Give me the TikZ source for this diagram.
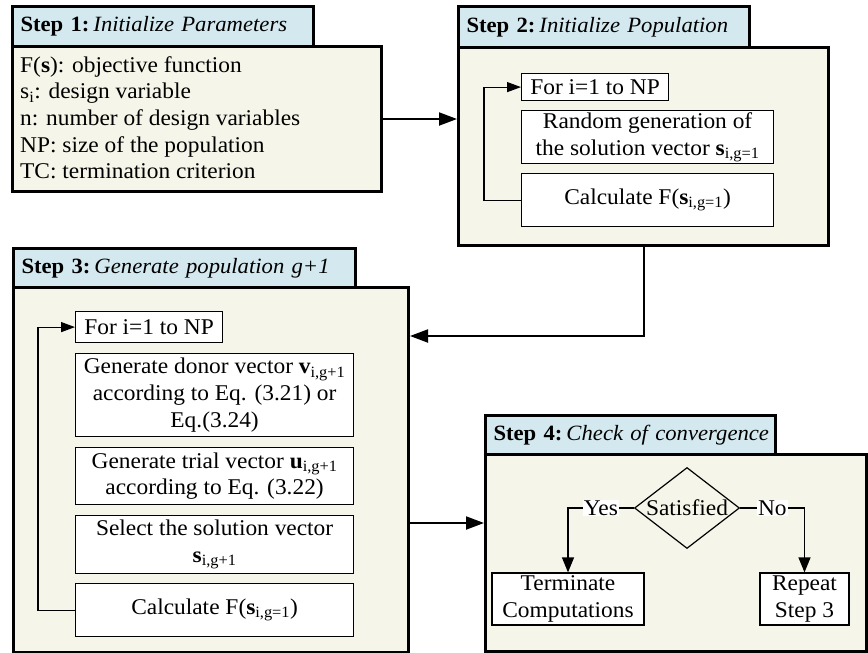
\documentclass[tikz,border=0pt]{standalone}
\usepackage{fontspec}
\setmainfont{Liberation Serif}[FakeStretch=1.04]
\usetikzlibrary{arrows.meta,shapes.geometric}
\definecolor{hdrblue}{HTML}{D3E9EF}
\definecolor{panelcream}{HTML}{F5F5E9}
\newcommand\lowsub[1]{\textsubscript{#1}}
\newcommand\vecb[1]{\textbf{#1}}
\newcommand\steptitle[2]{\mbox{\textbf{Step #1:}\hspace{4pt}\textit{#2}}}
\begin{document}
\begin{tikzpicture}[x=1pt,y=-1pt,
  font=\fontsize{22.5}{26.7}\selectfont,
  panel/.style={draw, line width=3pt, fill=panelcream, anchor=north west, inner sep=0pt},
  header/.style={draw, line width=3pt, fill=hdrblue, anchor=north west, inner xsep=8pt, inner ysep=0pt,
    align=left, font=\fontsize{21.8}{26}\selectfont},
  item/.style={draw, line width=1.2pt, fill=white, anchor=north west, align=center, inner sep=1pt},
  flow/.style={line width=2pt, -{Triangle[length=18pt,width=13pt]}},
  loopback/.style={line width=1.2pt, -{Triangle[length=14pt,width=10pt]}},
  branch/.style={line width=1.2pt, -{Triangle[length=15pt,width=12pt]}},
  tag/.style={fill=white, inner sep=1pt},
]
\useasboundingbox (0,0) rectangle (868,653);

% Step 1: parameters
\node[panel, minimum width=369, minimum height=145] (s1b) at (11,45) {};
\node[header, minimum width=301, minimum height=40, text width=285] (s1h) at (11,5)
  {\steptitle{1}{Initialize Parameters}};
\node[anchor=north west, inner sep=0pt, align=left] (s1txt) at (20,56)
  {F(\textbf{s}): objective function\\
   s\lowsub{i}: design variable\\
   n: number of design variables\\
   NP: size of the population\\
   TC: termination criterion};

% Step 2: initial population
\node[panel, minimum width=370, minimum height=198] (s2b) at (457,46) {};
\node[header, minimum width=291, minimum height=41, text width=275] (s2h) at (457,5)
  {\steptitle{2}{Initialize Population}};
\node[item, minimum width=147, minimum height=27] (s2for) at (521,73) {For i=1 to NP};
\node[item, minimum width=252, minimum height=53] (s2gen) at (521,110)
  {Random generation of\\the solution vector \vecb{s}\lowsub{i,g=1}};
\node[item, minimum width=252, minimum height=53] (s2calc) at (521,173)
  {Calculate F(\vecb{s}\lowsub{i,g=1})};
\draw[loopback] (s2calc.west) -- ++(-37,0) |- (s2for.west);

% Step 3: next generation
\node[panel, minimum width=395, minimum height=365] (s3b) at (12,286) {};
\node[header, minimum width=342, minimum height=39, text width=326] (s3h) at (12,247)
  {\steptitle{3}{Generate population g+1}};
\node[item, minimum width=147, minimum height=31] (s3for) at (75,311) {For i=1 to NP};
\node[item, minimum width=278, minimum height=83] (s3don) at (75,353)
  {Generate donor vector \vecb{v}\lowsub{i,g+1}\\according to Eq. (3.21) or\\Eq.(3.24)};
\node[item, minimum width=278, minimum height=57] (s3tri) at (75,447)
  {Generate trial vector \vecb{u}\lowsub{i,g+1}\\according to Eq. (3.22)};
\node[item, minimum width=278, minimum height=58] (s3sel) at (75,515)
  {Select the solution vector\\\vecb{s}\lowsub{i,g+1}};
\node[item, minimum width=278, minimum height=53] (s3calc) at (75,583)
  {Calculate F(\vecb{s}\lowsub{i,g=1})};
\draw[loopback] (s3calc.west) -- ++(-37,0) |- (s3for.west);

% Step 4: convergence check
\node[panel, minimum width=381, minimum height=197] (s4b) at (484,453) {};
\node[header, minimum width=290, minimum height=39, text width=274] (s4h) at (484,414)
  {\steptitle{4}{Check of convergence}};
\node[diamond, draw, line width=1.2pt, minimum width=105, minimum height=81, inner sep=0pt,
  label=center:Satisfied] (sat) at (687,508) {};
\node[item, anchor=center, minimum width=152, minimum height=52, inner sep=0pt] (term) at (568,599)
  {Terminate\\Computations};
\node[item, anchor=center, minimum width=89, minimum height=52, inner sep=0pt] (rep) at (804.5,599)
  {Repeat\\Step 3};
\draw[branch] (sat.west) -- node[tag]{Yes} (sat.west -| term.north) -- (term.north);
\draw[branch] (sat.east) -- node[tag]{No} (sat.east -| rep.north) -- (rep.north);

% links between the steps
\draw[flow] (s1b.east) -- (s1b.east -| s2b.west);
\draw[flow] (s2b.south) |- ([yshift=-50pt]s3b.north east);
\draw[flow] ([yshift=-53pt]s3b.east) -- ([yshift=-53pt]s3b.east -| s4b.west);
\end{tikzpicture}
\end{document}
